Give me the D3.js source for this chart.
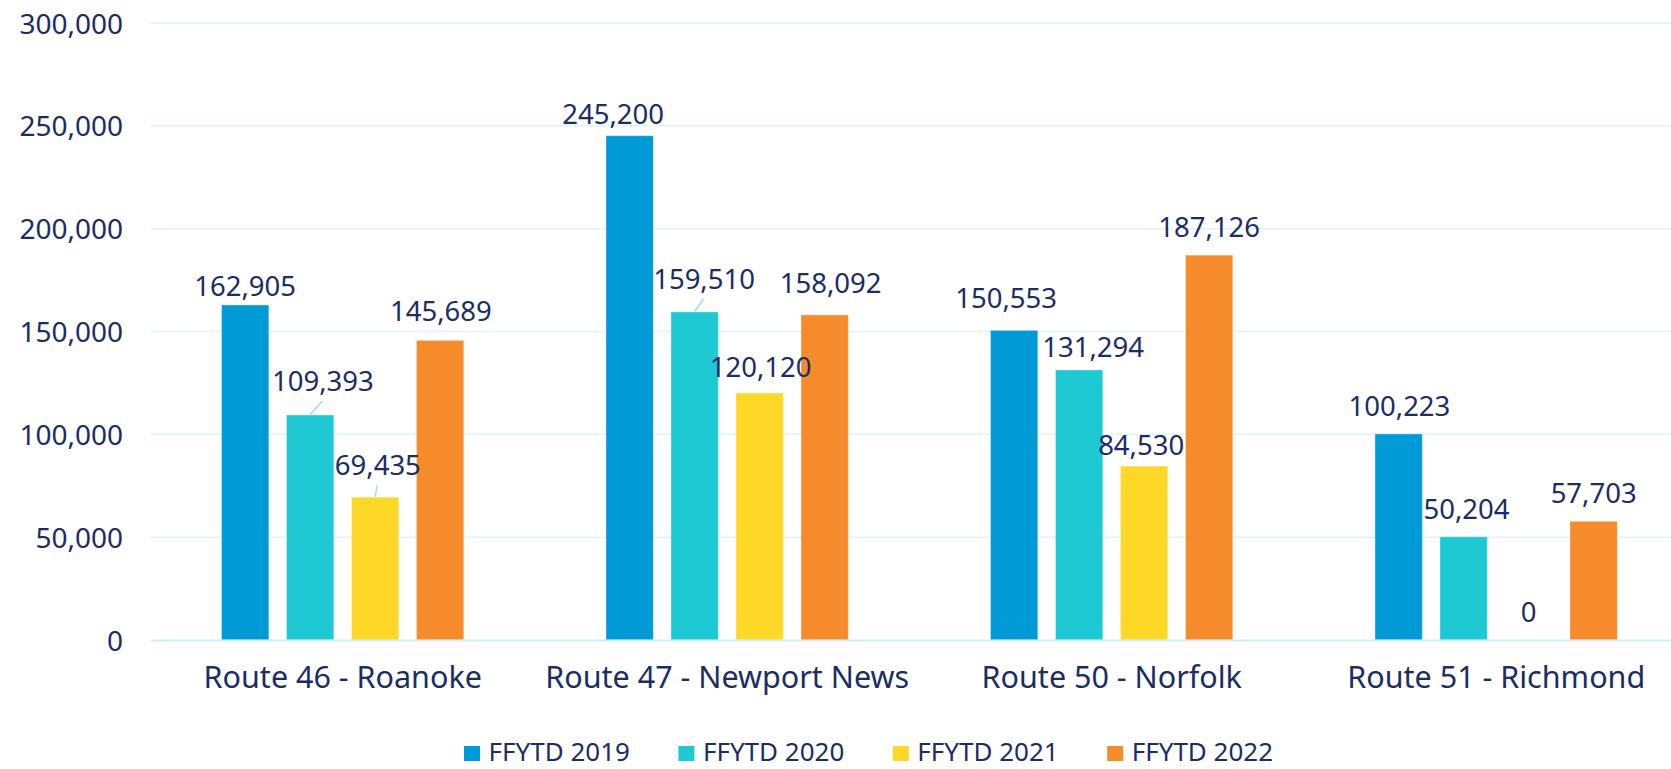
<!DOCTYPE html>
<html>
<head>
<meta charset="utf-8">
<script src="https://cdn.jsdelivr.net/npm/d3@7"></script>
<style>
  html, body { margin: 0; padding: 0; background: #fff; overflow: hidden; }
  svg { display: block; font-family: "Noto Sans", "Liberation Sans", sans-serif; }
</style>
</head>
<body>
<svg id="chart" width="1671" height="769"></svg>
<script>
// ---- data ----
const categories = ["Route 46 - Roanoke", "Route 47 - Newport News", "Route 50 - Norfolk", "Route 51 - Richmond"];
const seriesNames = ["FFYTD 2019", "FFYTD 2020", "FFYTD 2021", "FFYTD 2022"];
const values2019 = [162905, 245200, 150553, 100223];
const values2020 = [109393, 159510, 131294, 50204];
const values2021 = [69435, 120120, 84530, 0];
const values2022 = [145689, 158092, 187126, 57703];
const yTicks = [0, 50000, 100000, 150000, 200000, 250000, 300000];

// ---- layout / style (not data) ----
const colors = ["#009ad6", "#1fc9d3", "#fdd826", "#f68b2c"];
const textColor = "#1b2d63";
// label nudges [dx, dy] per series, per category (as placed in the original)
const labelNudge = [
  [[0, 9.5], [-16.5, 6], [-8, -4.5], [0.8, 0]],
  [[12.8, -6], [9.4, -5], [14, 5.3], [2.8, 0]],
  [[2.7, -4.3], [1, 2.4], [-3, 7], [0, 0]],
  [[0.8, -1], [6, -3.7], [0, 0], [0, 0]]
];
const leaderFlags = [
  [false, false, false, false],
  [true, true, false, false],
  [true, false, false, false],
  [false, false, false, false]
];

const allValues = [values2019, values2020, values2021, values2022];
const rows = [];
seriesNames.forEach((s, si) => {
  categories.forEach((c, ci) => {
    rows.push({ series: s, si, category: c, ci, value: allValues[si][ci] });
  });
});

const svg = d3.select("#chart");
const W = 1671;

const x0 = d3.scaleBand().domain(categories).range([150.5, 150.5 + 4 * 384.5]).paddingInner(0).paddingOuter(0);
const x1 = d3.scaleBand().domain(seriesNames).range([71, 71 + 242.3]).paddingInner(0.272).paddingOuter(0);
const y = d3.scaleLinear().domain([0, 300000]).range([640, 23]);

// gridlines
svg.append("g").selectAll("line").data(yTicks.filter(d => d > 0)).join("line")
  .attr("x1", 151).attr("x2", W)
  .attr("y1", d => y(d)).attr("y2", d => y(d))
  .attr("stroke", "#dff1fb").attr("stroke-width", 1.5);

// y axis labels
const yAxis = d3.axisLeft(y).tickValues(yTicks).tickSize(0).tickPadding(0)
  .tickFormat(d3.format(","));
const gy = svg.append("g").attr("transform", "translate(123,0)").call(yAxis);
gy.select(".domain").remove();
gy.selectAll("text")
  .attr("fill", textColor).attr("font-size", 28)
  .attr("font-family", "Noto Sans, Liberation Sans, sans-serif")
  .attr("dy", "0.36em");

// bars
const gBars = svg.append("g");
gBars.selectAll("rect").data(rows).join("rect")
  .attr("x", d => x0(d.category) + x1(d.series))
  .attr("width", x1.bandwidth())
  .attr("y", d => y(d.value))
  .attr("height", d => y(0) - y(d.value))
  .attr("fill", d => colors[d.si])
  .attr("stroke", "rgba(255,255,255,0.35)")
  .attr("stroke-width", 1);

// baseline
svg.append("line")
  .attr("x1", 151).attr("x2", W)
  .attr("y1", y(0) + 0.5).attr("y2", y(0) + 0.5)
  .attr("stroke", "#cdeefa").attr("stroke-width", 2);

// data labels
const labelPos = d => {
  const n = labelNudge[d.si][d.ci];
  const cx = x0(d.category) + x1(d.series) + x1.bandwidth() / 2;
  return { cx, x: cx + n[0], y: y(d.value) - 18 + n[1], top: y(d.value) };
};

// leader lines
svg.append("g").selectAll("line").data(rows.filter(d => leaderFlags[d.si][d.ci])).join("line")
  .attr("x1", d => labelPos(d).x - 0.5)
  .attr("y1", d => labelPos(d).y + 10)
  .attr("x2", d => labelPos(d).cx)
  .attr("y2", d => labelPos(d).top - 0.5)
  .attr("stroke", "#9ddcf5").attr("stroke-width", 1.5);

svg.append("g").selectAll("text").data(rows).join("text")
  .attr("x", d => labelPos(d).x)
  .attr("y", d => labelPos(d).y)
  .attr("text-anchor", "middle")
  .attr("fill", textColor)
  .attr("font-size", 27.5)
  .text(d => d3.format(",")(d.value));

// category axis labels
const xAxis = d3.axisBottom(x0).tickSize(0).tickPadding(0);
const gx = svg.append("g").attr("transform", "translate(0,688)").call(xAxis);
gx.select(".domain").remove();
gx.selectAll("text")
  .attr("fill", textColor).attr("font-size", 30.5)
  .attr("font-family", "Noto Sans, Liberation Sans, sans-serif")
  .attr("dy", 0).attr("y", 0);

// legend
const legend = svg.append("g");
const items = legend.selectAll("g").data(seriesNames).join("g")
  .attr("transform", (d, i) => `translate(${464 + i * 214.4},0)`);
items.append("rect")
  .attr("x", 0).attr("y", 746).attr("width", 16).attr("height", 15)
  .attr("fill", (d, i) => colors[i]);
items.append("text")
  .attr("x", 24.5).attr("y", 761)
  .attr("fill", textColor).attr("font-size", 26)
  .text(d => d);
</script>
</body>
</html>
